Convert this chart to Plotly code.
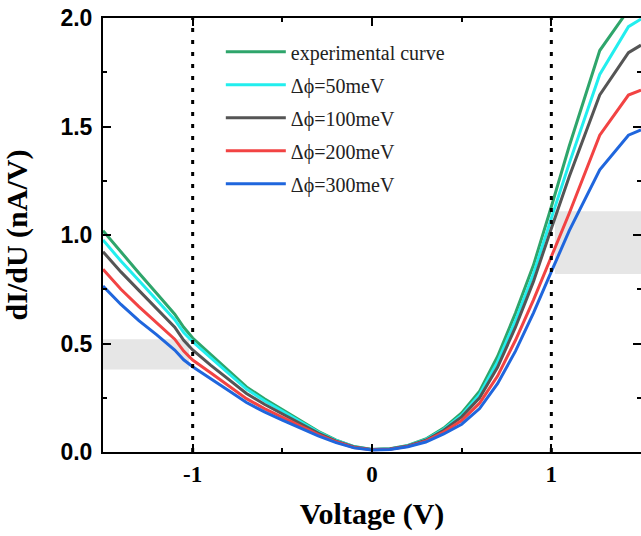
import plotly.graph_objects as go

voltage = [-1.5, -1.4, -1.3, -1.2, -1.1, -1.05, -1.0, -0.9, -0.8, -0.7, -0.6, -0.5, -0.4, -0.3,
           -0.2, -0.1, 0.0, 0.1, 0.2, 0.3, 0.4, 0.5, 0.6, 0.7, 0.8, 0.9, 1.0, 1.1, 1.27, 1.43, 1.5]

experimental = [1.02, 0.92, 0.825, 0.73, 0.635, 0.575, 0.525, 0.45, 0.375, 0.30, 0.245, 0.195, 0.145, 0.095,
                0.055, 0.025, 0.012, 0.015, 0.03, 0.06, 0.11, 0.18, 0.28, 0.44, 0.64, 0.86, 1.13, 1.41, 1.85, 2.04, 2.12]
dphi_50 = [0.977, 0.88, 0.79, 0.70, 0.61, 0.55, 0.508, 0.435, 0.362, 0.29, 0.236, 0.188, 0.14, 0.092,
           0.053, 0.024, 0.012, 0.014, 0.029, 0.057, 0.105, 0.17, 0.265, 0.415, 0.605, 0.82, 1.077, 1.33, 1.74, 1.96, 1.995]
dphi_100 = [0.923, 0.83, 0.745, 0.66, 0.575, 0.515, 0.47, 0.40, 0.335, 0.27, 0.22, 0.176, 0.131, 0.087,
            0.05, 0.023, 0.011, 0.014, 0.028, 0.054, 0.10, 0.162, 0.25, 0.39, 0.575, 0.785, 1.03, 1.27, 1.645, 1.84, 1.875]
dphi_200 = [0.842, 0.75, 0.67, 0.595, 0.52, 0.465, 0.424, 0.365, 0.305, 0.246, 0.20, 0.16, 0.12, 0.08,
            0.047, 0.021, 0.01, 0.013, 0.026, 0.05, 0.092, 0.145, 0.225, 0.35, 0.515, 0.70, 0.90, 1.10, 1.46, 1.645, 1.668]
dphi_300 = [0.765, 0.68, 0.605, 0.54, 0.47, 0.425, 0.393, 0.34, 0.283, 0.228, 0.185, 0.147, 0.11, 0.074,
            0.043, 0.019, 0.009, 0.012, 0.024, 0.046, 0.083, 0.128, 0.20, 0.315, 0.465, 0.64, 0.831, 1.02, 1.30, 1.46, 1.484]

series_names = ["experimental curve", "\u0394\u03d5=50meV", "\u0394\u03d5=100meV", "\u0394\u03d5=200meV", "\u0394\u03d5=300meV"]
series_values = [experimental, dphi_50, dphi_100, dphi_200, dphi_300]
series_colors = ["#2ea56b", "#22eeee", "#555555", "#f24343", "#1f66dd"]

marker_voltages = [-1.0, 1.0]
band_x = [[-1.5, -1.02], [1.02, 1.5]]
band_y = [[0.38, 0.52], [0.82, 1.11]]

x_ticks = [-1, 0, 1]
x_tick_labels = ["-1", "0", "1"]
y_ticks = [0.0, 0.5, 1.0, 1.5, 2.0]
y_tick_labels = ["0.0", "0.5", "1.0", "1.5", "2.0"]

fig = go.Figure()
for i, (name, vals, col) in enumerate(zip(series_names, series_values, series_colors)):
    fig.add_trace(go.Scatter(x=voltage, y=vals, mode="lines", name=name,
                             line=dict(color=col, width=3), legendgroup=f"g{i}"))

for (x0, x1), (y0, y1) in zip(band_x, band_y):
    fig.add_shape(type="rect", x0=x0, x1=x1, y0=y0, y1=y1, xref="x", yref="y",
                  fillcolor="#e6e6e6", line=dict(width=0), layer="below")
for v in marker_voltages:
    fig.add_shape(type="line", x0=v, x1=v, y0=0, y1=2, xref="x", yref="y",
                  line=dict(color="black", width=3, dash="4px,8px"), layer="above")

serif = "Liberation Serif"
fig.update_layout(
    width=641, height=536,
    margin=dict(l=103, r=0, t=18, b=84, autoexpand=False),
    plot_bgcolor="white", paper_bgcolor="white",
    showlegend=True,
    legend=dict(x=0.219, y=0.967, xanchor="left", yanchor="top", bgcolor="rgba(0,0,0,0)",
                font=dict(family=serif, size=20, color="#222"),
                traceorder="grouped", tracegroupgap=4, itemwidth=60),
    xaxis=dict(range=[-1.5, 1.5], tickvals=x_ticks, ticktext=x_tick_labels, automargin=False,
               ticks="inside", ticklen=8, tickwidth=2, tickcolor="black",
               showline=True, linecolor="black", linewidth=2, mirror="ticks",
               showgrid=False, zeroline=False,
               minor=dict(tickvals=[-0.5, 0.5], ticks="inside", ticklen=4, tickwidth=2, tickcolor="black"),
               tickfont=dict(family=serif, size=23, color="black", weight="bold"),
               title=dict(text="Voltage (V)", font=dict(family=serif, size=30, color="black", weight="bold"),
                          standoff=17)),
    yaxis=dict(range=[0, 2.0], tickvals=y_ticks, ticktext=y_tick_labels, automargin=False,
               ticks="inside", ticklen=8, tickwidth=2, tickcolor="black",
               showline=True, linecolor="black", linewidth=2, mirror="ticks",
               showgrid=False, zeroline=False, ticklabelstandoff=4,
               minor=dict(tickvals=[0.25, 0.75, 1.25, 1.75], ticks="inside", ticklen=4, tickwidth=2, tickcolor="black"),
               tickfont=dict(family="Liberation Sans", size=23, color="black", weight="bold"),
               title=dict(text="dI/dU (nA/V)", font=dict(family=serif, size=30, color="black", weight="bold"),
                          standoff=24)),
)

fig.write_html("out.html", config={"displayModeBar": False},
               post_script="document.body.style.margin='0px';")
